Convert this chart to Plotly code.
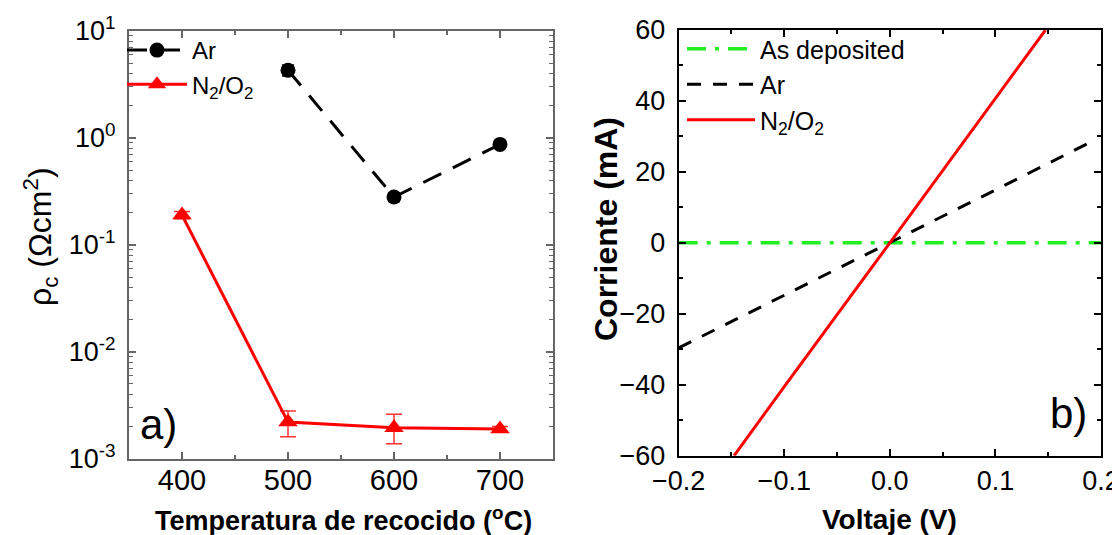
import plotly.graph_objects as go

# ---- Panel a) data ----
temp_ar = [500, 600, 700]
rho_ar = [4.3, 0.28, 0.87]
rho_ar_err = [0.5, 0.025, 0.07]

temp_n2o2 = [400, 500, 600, 700]
rho_n2o2 = [0.19, 0.0022, 0.00195, 0.0019]
rho_n2o2_err_plus = [0.015, 0.0006, 0.00065, 0.0001]
rho_n2o2_err_minus = [0.015, 0.0006, 0.00057, 0.0001]

log_tickvals = [0.001, 0.01, 0.1, 1, 10]
log_ticktext = ["10<sup>-3</sup>", "10<sup>-2</sup>", "10<sup>-1</sup>", "10<sup>0</sup>", "10<sup>1</sup>"]

# ---- Panel b) data ----
volt_dep = [-0.2, 0.2]
curr_dep = [0.0, 0.0]
volt_ar = [-0.2, -0.1, 0.0, 0.1, 0.188]
curr_ar = [-29.6, -14.8, 0.0, 14.9, 28.1]
volt_n2o2 = [-0.1475, -0.1, 0.0, 0.1, 0.1474]
curr_n2o2 = [-60.0, -40.5, 0.0, 40.6, 60.0]

FONT = "Arial, Liberation Sans, sans-serif"
W, H = 1120, 535

def px_x(p):
    return p / W

def px_y(p):
    return 1 - p / H

fig = go.Figure()

# Panel a
fig.add_trace(go.Scatter(
    x=temp_ar, y=rho_ar, mode="lines+markers", name="Ar",
    line=dict(color="black", width=3, dash="20px,13px"),
    marker=dict(symbol="circle", size=15, color="black"),
    error_y=dict(type="data", array=rho_ar_err, color="black", thickness=1.5, width=6),
    xaxis="x", yaxis="y", legend="legend",
))
fig.add_trace(go.Scatter(
    x=temp_n2o2, y=rho_n2o2, mode="lines+markers", name="N<sub>2</sub>/O<sub>2</sub>",
    line=dict(color="#ff0000", width=3),
    marker=dict(symbol="triangle-up", size=17, color="#ff0000"),
    error_y=dict(type="data", symmetric=False, array=rho_n2o2_err_plus,
                 arrayminus=rho_n2o2_err_minus, color="#ff3030", thickness=1.5, width=8),
    xaxis="x", yaxis="y", legend="legend",
))

# Panel b
fig.add_trace(go.Scatter(
    x=volt_dep, y=curr_dep, mode="lines", name="As deposited",
    line=dict(color="#22ee22", width=3.5, dash="19px,9px,4px,9px"),
    xaxis="x2", yaxis="y2", legend="legend2",
))
fig.add_trace(go.Scatter(
    x=volt_ar, y=curr_ar, mode="lines", name="Ar",
    line=dict(color="black", width=3, dash="14px,12px"),
    xaxis="x2", yaxis="y2", legend="legend2",
))
fig.add_trace(go.Scatter(
    x=volt_n2o2, y=curr_n2o2, mode="lines", name="N<sub>2</sub>/O<sub>2</sub>",
    line=dict(color="#ff0000", width=3),
    xaxis="x2", yaxis="y2", legend="legend2",
))

axis_common = dict(showgrid=False, zeroline=False, mirror="ticks", showline=True,
                   ticks="inside", automargin=False)

fig.update_layout(
    width=W, height=H,
    margin=dict(l=0, r=0, t=0, b=0),
    paper_bgcolor="white", plot_bgcolor="white",
    font=dict(family=FONT, color="black"),
    showlegend=True,
    xaxis=dict(
        **axis_common, domain=[px_x(121), px_x(545)], anchor="y",
        range=[350, 750], tickvals=[400, 500, 600, 700],
        linecolor="#666666", linewidth=2, tickcolor="#666666", ticklen=7, tickwidth=2,
        minor=dict(ticks="inside", ticklen=4, tickcolor="#666666", dtick=50, tick0=0, tickwidth=1.5),
        tickfont=dict(size=29, family=FONT), ticklabelstandoff=-6,
    ),
    yaxis=dict(
        **axis_common, domain=[px_y(450.7), px_y(23)], anchor="x",
        type="log", range=[-3, 1], tickvals=log_tickvals, ticktext=log_ticktext,
        linecolor="#666666", linewidth=2, tickcolor="#666666", ticklen=7, tickwidth=2,
        minor=dict(ticks="inside", ticklen=4, tickcolor="#666666", dtick="D1", tickwidth=1),
        tickfont=dict(size=27, family=FONT), ticklabelstandoff=6,
    ),
    xaxis2=dict(
        **axis_common, domain=[px_x(670.7), px_x(1093)], anchor="y2",
        range=[-0.2, 0.2], dtick=0.1, tick0=0, tickformat=".1f",
        linecolor="black", linewidth=2, tickcolor="black", ticklen=7, tickwidth=2,
        minor=dict(ticks="inside", ticklen=4, dtick=0.05, tick0=0, tickcolor="black", tickwidth=1.5),
        tickfont=dict(size=27, family=FONT), ticklabelstandoff=0,
    ),
    yaxis2=dict(
        **axis_common, domain=[px_y(447.7), px_y(22)], anchor="x2",
        range=[-60, 60], dtick=20, tick0=0,
        linecolor="black", linewidth=2, tickcolor="black", ticklen=7, tickwidth=2,
        minor=dict(ticks="inside", ticklen=4, dtick=10, tick0=0, tickcolor="black", tickwidth=1.5),
        tickfont=dict(size=27, family=FONT), ticklabelstandoff=6,
    ),
    legend=dict(
        x=px_x(114), y=px_y(20), xanchor="left", yanchor="top",
        bgcolor="rgba(0,0,0,0)", font=dict(size=24, family=FONT),
        itemwidth=60, tracegroupgap=0,
    ),
    legend2=dict(
        x=px_x(674), y=px_y(18), xanchor="left", yanchor="top",
        bgcolor="rgba(0,0,0,0)", font=dict(size=25, family=FONT),
        itemwidth=68, tracegroupgap=0,
    ),
    annotations=[
        dict(text="ρ<sub>c</sub> (Ωcm<sup>2</sup>)", x=px_x(32), y=px_y(229),
             xref="paper", yref="paper", showarrow=False, textangle=-90,
             xanchor="center", yanchor="middle", font=dict(size=32, family=FONT)),
        dict(text="<b>Temperatura de recocido (<sup>o</sup>C)</b>", x=px_x(335), y=px_y(511),
             xref="paper", yref="paper", showarrow=False,
             xanchor="center", yanchor="middle", font=dict(size=27, family=FONT)),
        dict(text="<b>Corriente (mA)</b>", x=px_x(598), y=px_y(221),
             xref="paper", yref="paper", showarrow=False, textangle=-90,
             xanchor="center", yanchor="middle", font=dict(size=32, family=FONT)),
        dict(text="<b>Voltaje (V)</b>", x=px_x(881), y=px_y(511),
             xref="paper", yref="paper", showarrow=False,
             xanchor="center", yanchor="middle", font=dict(size=28, family=FONT)),
        dict(text="a)", x=px_x(150), y=px_y(416), xref="paper", yref="paper",
             xanchor="center", yanchor="middle", showarrow=False, font=dict(size=42, family=FONT)),
        dict(text="b)", x=px_x(1060), y=px_y(405), xref="paper", yref="paper",
             xanchor="center", yanchor="middle", showarrow=False, font=dict(size=42, family=FONT)),
    ],
)

fig.write_html("out.html")
